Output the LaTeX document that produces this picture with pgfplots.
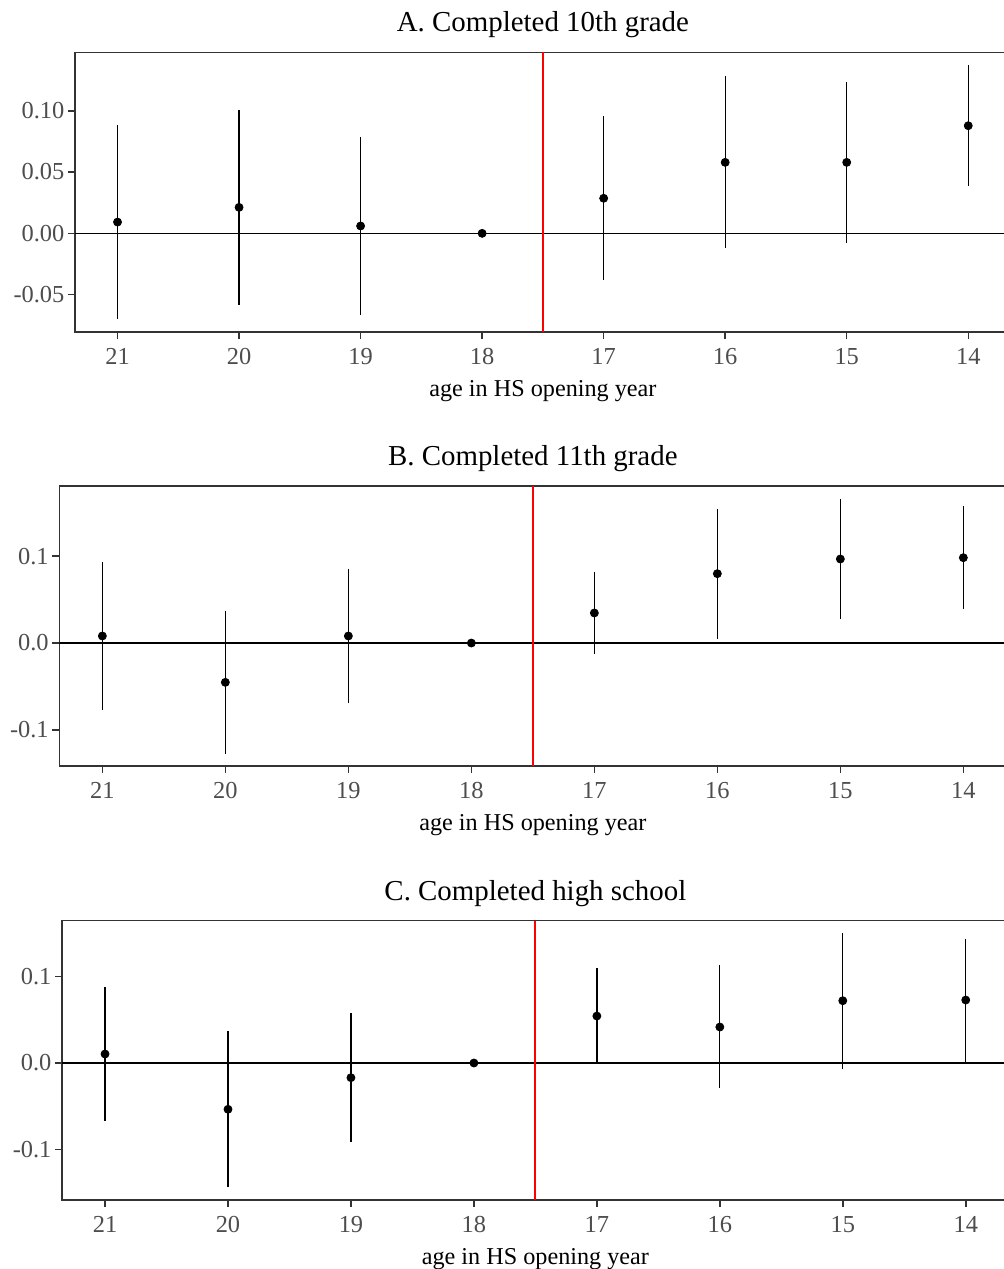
\documentclass[border=0pt]{standalone}
\usepackage{pgfplots}
\usepackage{pgfplotstable}
\pgfplotsset{compat=1.18}
\usepackage{fontspec}
\setmainfont{Liberation Serif}
\definecolor{gborder}{HTML}{333333}
\definecolor{gtick}{HTML}{4D4D4D}

\pgfplotstableread{
x y lo hi
0 0.0092 -0.0700 0.0880
1 0.0212 -0.0585 0.1006
2 0.0060 -0.0669 0.0783
3 0.0000 0.0000 0.0000
4 0.0286 -0.0381 0.0955
5 0.0579 -0.0122 0.1280
6 0.0579 -0.0079 0.1232
7 0.0878 0.0388 0.1376
}\dataA

\pgfplotstableread{
x y lo hi
0 0.0081 -0.0775 0.0930
1 -0.0453 -0.1275 0.0365
2 0.0081 -0.0695 0.0853
3 0.0000 0.0000 0.0000
4 0.0346 -0.0123 0.0818
5 0.0799 0.0050 0.1540
6 0.0968 0.0280 0.1659
7 0.0983 0.0392 0.1575
}\dataB

\pgfplotstableread{
x y lo hi
0 0.0104 -0.0667 0.0882
1 -0.0535 -0.1437 0.0366
2 -0.0170 -0.0917 0.0581
3 0.0000 0.0000 0.0000
4 0.0543 -0.0010 0.1095
5 0.0416 -0.0292 0.1133
6 0.0720 -0.0066 0.1500
7 0.0728 0.0012 0.1433
}\dataC

\pgfplotsset{
  panel/.style={
    scale only axis, anchor=north west,
    xmin=-0.35, xmax=7.35,
    xtick={0,...,7}, xticklabels={21,20,19,18,17,16,15,14},
    axis line style={gborder, line width=0.75pt},
    tick style={gborder, line width=0.75pt},
    tick align=outside, major tick length=3.6pt,
    xtick pos=bottom, ytick pos=left,
    ticklabel style={font=\fontsize{12.2}{14}\selectfont, text=gtick},
    xticklabel style={yshift=-1pt},
    yticklabel style={inner sep=1.5pt},
    /pgf/number format/assume math mode=true,
    xlabel={age in HS opening year},
    xlabel style={font=\fontsize{12.1}{14}\selectfont, inner sep=0pt, yshift=-4.5pt},
    title style={font=\fontsize{14.45}{17}\selectfont, yshift=-2.5pt},
    clip=true,
  },
  ci/.style={only marks, mark=*, mark size=2pt, black,
    error bars/.cd, y dir=both, y explicit, error mark=none,
    error bar style={black, line width=0.65pt}},
}

\newcommand{\refs}{%
  \draw[black, line width=0.6pt] ({rel axis cs:0,0}|-{axis cs:0,0}) -- ({rel axis cs:1,0}|-{axis cs:0,0});
  \draw[red, line width=1.1pt] ({axis cs:3.5,0}|-{rel axis cs:0,0}) -- ({axis cs:3.5,0}|-{rel axis cs:0,1});
}

\begin{document}
\begin{tikzpicture}
\path[use as bounding box] (0,0) rectangle (502pt,-634.5pt);
\begin{scope}
\clip (0,0) rectangle (502pt,-634.5pt);

\begin{axis}[panel, at={(37.5pt,-26.15pt)}, width=467.9pt, height=139.85pt,
  ymin=-0.0805, ymax=0.1477, ytick={-0.05,0,0.05,0.10},
  yticklabel style={/pgf/number format/.cd, fixed, fixed zerofill, precision=2},
  title={A. Completed 10th grade}]
\refs
\addplot[ci] table[x=x, y=y, y error plus expr=\thisrow{hi}-\thisrow{y}, y error minus expr=\thisrow{y}-\thisrow{lo}] {\dataA};
\end{axis}

\begin{axis}[panel, at={(29.65pt,-243pt)}, width=473.55pt, height=140pt,
  ymin=-0.1417, ymax=0.1809, ytick={-0.1,0,0.1},
  yticklabel style={/pgf/number format/.cd, fixed, fixed zerofill, precision=1},
  title={B. Completed 11th grade}]
\refs
\addplot[ci] table[x=x, y=y, y error plus expr=\thisrow{hi}-\thisrow{y}, y error minus expr=\thisrow{y}-\thisrow{lo}] {\dataB};
\end{axis}

\begin{axis}[panel, at={(31pt,-460.35pt)}, width=473.4pt, height=139.65pt,
  ymin=-0.1584, ymax=0.1645, ytick={-0.1,0,0.1},
  yticklabel style={/pgf/number format/.cd, fixed, fixed zerofill, precision=1},
  title={C. Completed high school}]
\refs
\addplot[ci] table[x=x, y=y, y error plus expr=\thisrow{hi}-\thisrow{y}, y error minus expr=\thisrow{y}-\thisrow{lo}] {\dataC};
\end{axis}
\end{scope}
\end{tikzpicture}
\end{document}
